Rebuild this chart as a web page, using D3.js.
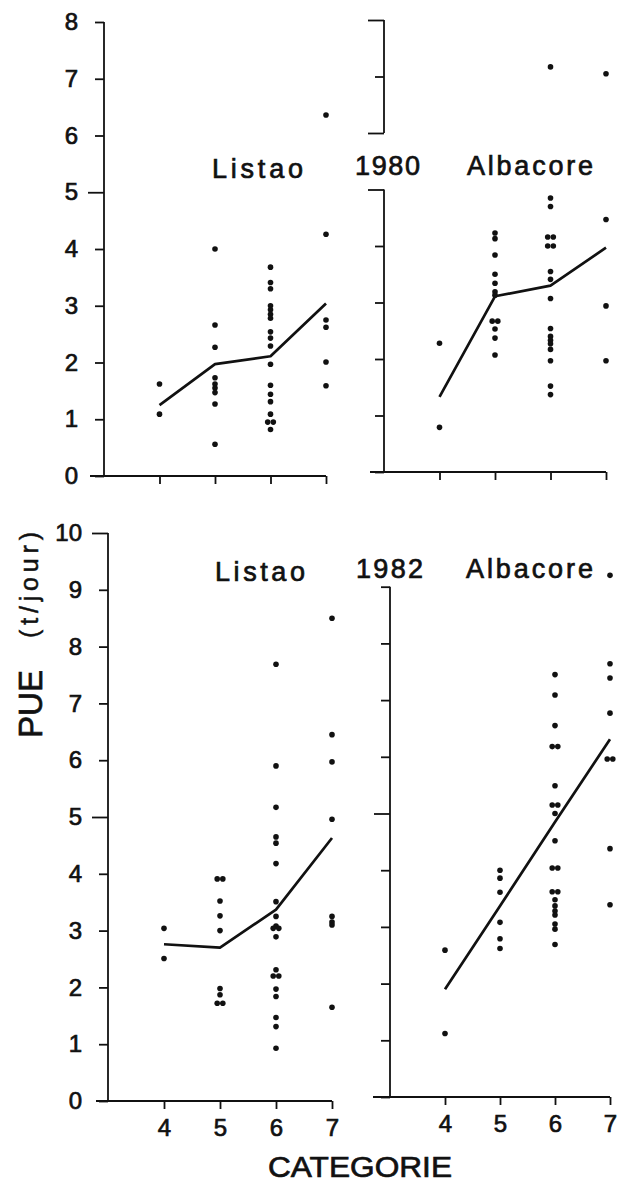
<!DOCTYPE html>
<html>
<head>
<meta charset="utf-8">
<script src="https://cdnjs.cloudflare.com/ajax/libs/d3/7.8.5/d3.min.js"></script>
<style>
  body { margin: 0; background: #fff; }
  svg { display: block; font-family: 'Liberation Sans', Arial, sans-serif; }
  .axis-line { stroke: #111; stroke-width: 1.8; fill: none; }
  .mean { stroke: #111; stroke-width: 2.7; fill: none; stroke-linejoin: round; }
  .dot { fill: #111; }
  text { fill: #111; }
</style>
</head>
<body>
<div id="chart"></div>
<script>
const categories = [4, 5, 6, 7];
const years = ['1980', '1982'];
const species = ['Listao', 'Albacore'];
const yTicks1980 = [0, 1, 2, 3, 4, 5, 6, 7, 8];
const yTicks1982 = [0, 1, 2, 3, 4, 5, 6, 7, 8, 9, 10];
const xTitle = 'CATEGORIE';
const yTitle = 'PUE';
const yUnit = '(t/jour)';

// PUE (t/jour) per boat, one list per category 4..7
const listao1980 = [
  [1.62, 1.09],
  [4.0, 2.66, 2.27, 1.73, 1.62, 1.55, 1.47, 1.27, 0.56],
  [3.68, 3.41, 3.30, 3.0, 2.93, 2.85, 2.78, 2.54, 2.43, 2.29, 1.97, 1.60, 1.44, 1.31, 1.09, 0.95, 0.95, 0.82],
  [6.36, 4.26, 2.75, 2.62, 2.01, 1.59]
];
const listao1980Mean = [1.25, 1.97, 2.11, 3.04];

const albacore1980 = [
  [2.28, 0.79],
  [4.23, 4.13, 3.84, 3.50, 3.34, 3.19, 3.13, 2.67, 2.67, 2.53, 2.37, 2.07],
  [7.17, 4.85, 4.70, 4.16, 4.16, 4.0, 4.0, 3.55, 3.41, 3.07, 2.54, 2.40, 2.33, 2.27, 2.17, 1.97, 1.52, 1.37],
  [7.05, 4.47, 2.94, 1.97]
];
const albacore1980Mean = [1.33, 3.11, 3.30, 3.97];

const listao1982 = [
  [3.04, 2.51],
  [3.91, 3.91, 3.52, 3.26, 3.0, 1.98, 1.87, 1.72, 1.72],
  [7.69, 5.90, 5.17, 4.65, 4.54, 4.18, 3.51, 3.25, 3.08, 3.04, 3.04, 2.89, 2.31, 2.20, 2.20, 1.97, 1.84, 1.47, 1.31, 0.93],
  [8.50, 6.45, 5.97, 4.96, 3.25, 3.15, 3.10, 1.65]
];
const listao1982Mean = [2.76, 2.70, 3.37, 4.63];

const albacore1982 = [
  [2.59, 1.12],
  [4.0, 3.86, 3.61, 3.08, 2.79, 2.62],
  [7.45, 7.09, 6.55, 6.18, 6.18, 5.49, 5.15, 5.15, 5.0, 4.52, 4.04, 4.04, 3.62, 3.62, 3.48, 3.37, 3.28, 3.21, 3.05, 2.96, 2.69],
  [9.2, 7.64, 7.39, 6.77, 5.96, 5.96, 4.38, 3.39]
];
const albacore1982Line = [1.90, 3.37, 4.85, 6.31];

// panel layout (pixels)
const panels = [
  { values: listao1980, mean: listao1980Mean, yTicks: yTicks1980, yMax: 8,
    xRange: [104, 326], yRange: [476, 22], segments: [[0, 8]], longTicks: [5],
    xLeft: 90, yLabels: true, xLabels: false },
  { values: albacore1980, mean: albacore1980Mean, yTicks: yTicks1980, yMax: 8,
    xRange: [384, 606], yRange: [472, 20], segments: [[0, 5], [6, 8]], longTicks: [5, 6, 8],
    xLeft: 370, yLabels: false, xLabels: false },
  { values: listao1982, mean: listao1982Mean, yTicks: yTicks1982, yMax: 10,
    xRange: [108, 332], yRange: [1101, 533], segments: [[0, 10]], longTicks: [5, 10],
    xLeft: 96, yLabels: true, xLabels: true },
  { values: albacore1982, mean: albacore1982Line, yTicks: yTicks1982.filter(v => v <= 9), yMax: 10,
    xRange: [390, 610], yRange: [1097, 530], segments: [[0, 9]], longTicks: [5],
    xLeft: 373, yLabels: false, xLabels: true }
];

const svg = d3.select('#chart').append('svg')
  .attr('width', 620)
  .attr('height', 1185);

// spread equal values side by side
function dodge(vals) {
  const out = [];
  const sorted = vals.slice().sort((a, b) => b - a);
  let i = 0;
  while (i < sorted.length) {
    let j = i;
    while (j + 1 < sorted.length && Math.abs(sorted[j + 1] - sorted[i]) < 0.02) j++;
    const n = j - i + 1;
    for (let k = 0; k < n; k++) {
      out.push({ v: sorted[i + k], dx: (k - (n - 1) / 2) * 5.6 });
    }
    i = j + 1;
  }
  return out;
}

panels.forEach(p => {
  const x = d3.scaleLinear().domain([3, 7]).range(p.xRange);
  const y = d3.scaleLinear().domain([0, p.yMax]).range(p.yRange);
  const g = svg.append('g');
  const inSeg = v => p.segments.some(s => v >= s[0] && v <= s[1]);

  // y axis
  const ya = g.append('g')
    .attr('transform', `translate(${p.xRange[0]},0)`)
    .call(d3.axisLeft(y)
      .tickValues(p.yTicks.filter(inSeg))
      .tickSize(9)
      .tickPadding(17)
      .tickSizeOuter(0)
      .tickFormat(p.yLabels ? d3.format('d') : ''));
  ya.attr('font-family', null).attr('font-size', null);
  ya.select('.domain').remove();
  ya.selectAll('.tick line')
    .attr('class', 'axis-line')
    .attr('x2', d => p.longTicks.includes(d) ? -16 : -9);
  ya.selectAll('.tick text')
    .attr('font-size', 24)
    .attr('stroke', '#111')
    .attr('stroke-width', 0.7);

  p.segments.forEach(s => {
    g.append('line')
      .attr('class', 'axis-line')
      .attr('x1', p.xRange[0]).attr('x2', p.xRange[0])
      .attr('y1', y(s[0])).attr('y2', y(s[1]));
  });

  // x axis
  const xa = g.append('g')
    .attr('transform', `translate(0,${y(0)})`)
    .call(d3.axisBottom(x)
      .tickValues(categories)
      .tickSize(8)
      .tickPadding(10)
      .tickSizeOuter(0)
      .tickFormat(p.xLabels ? d3.format('d') : ''));
  xa.attr('font-family', null).attr('font-size', null);
  xa.select('.domain').remove();
  xa.selectAll('.tick line').attr('class', 'axis-line');
  xa.selectAll('.tick text')
    .attr('font-size', 24)
    .attr('stroke', '#111')
    .attr('stroke-width', 0.7);

  g.append('line')
    .attr('class', 'axis-line')
    .attr('x1', p.xLeft).attr('x2', x(7))
    .attr('y1', y(0)).attr('y2', y(0));

  // points
  const dots = p.values.flatMap((vals, i) =>
    dodge(vals).map(d => ({ cat: categories[i], v: d.v, dx: d.dx })));
  g.selectAll('.dot').data(dots).enter()
    .append('circle')
    .attr('class', 'dot')
    .attr('cx', d => x(d.cat) + d.dx)
    .attr('cy', d => y(d.v))
    .attr('r', 2.8);

  // mean line
  const line = d3.line()
    .x((d, i) => x(categories[i]))
    .y(d => y(d));
  g.append('path')
    .attr('class', 'mean')
    .attr('d', line(p.mean));
});

// panel titles
const titles = [
  { text: species[0], x: 212, y: 178, len: 91 },
  { text: years[0], x: 355, y: 175, len: 65 },
  { text: species[1], x: 467, y: 175, len: 126 },
  { text: species[0], x: 215, y: 581, len: 90 },
  { text: years[1], x: 356, y: 578, len: 67 },
  { text: species[1], x: 466, y: 578, len: 127 }
];
svg.selectAll('.title').data(titles).enter()
  .append('text')
  .attr('class', 'title')
  .attr('x', d => d.x)
  .attr('y', d => d.y)
  .attr('font-size', 27)
  .attr('stroke', '#111')
  .attr('stroke-width', 0.7)
  .attr('textLength', d => d.len)
  .attr('lengthAdjust', 'spacing')
  .text(d => d.text);

// axis titles
svg.append('text')
  .attr('x', 268)
  .attr('y', 1177)
  .attr('font-size', 30)
  .attr('stroke', '#111')
  .attr('stroke-width', 0.7)
  .attr('textLength', 184)
  .attr('lengthAdjust', 'spacingAndGlyphs')
  .text(xTitle);

svg.append('text')
  .attr('transform', 'translate(42,738) rotate(-90)')
  .attr('font-size', 34)
  .attr('stroke', '#111')
  .attr('stroke-width', 0.7)
  .attr('textLength', 68)
  .attr('lengthAdjust', 'spacingAndGlyphs')
  .text(yTitle);

svg.append('text')
  .attr('transform', 'translate(38,638) rotate(-90)')
  .attr('font-size', 25)
  .attr('stroke', '#111')
  .attr('stroke-width', 0.5)
  .attr('textLength', 106)
  .attr('lengthAdjust', 'spacing')
  .text(yUnit);
</script>
</body>
</html>
